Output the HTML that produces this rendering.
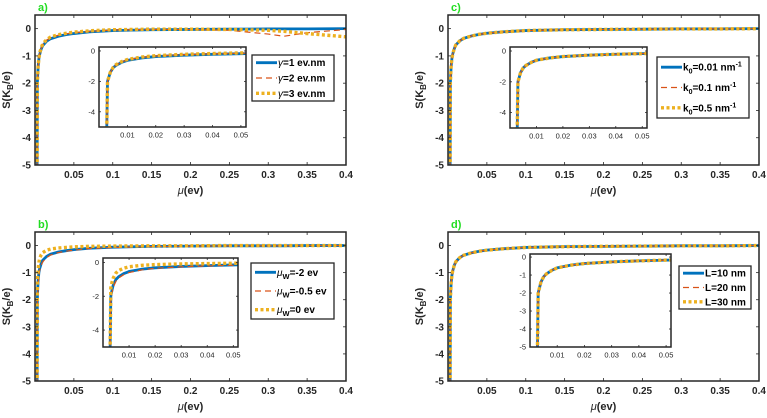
<!DOCTYPE html>
<html><head><meta charset="utf-8">
<style>
html,body{margin:0;padding:0;background:#fff;}
svg{display:block;font-family:"Liberation Sans",Arial,sans-serif;}
</style></head>
<body>
<svg id="fig" width="767" height="418" viewBox="0 0 767 418" xmlns="http://www.w3.org/2000/svg"></svg>
<script>
// ---- data ----
const xs = [0.0027,0.003,0.0035,0.004,0.005,0.006,0.008,0.01,0.015,0.02,0.03,0.04,0.05,0.07,0.1,0.15,0.2,0.25,0.3,0.32,0.35,0.4];
const sA1 = [-5.5,-2.0,-1.7,-1.4,-1.1,-0.95,-0.75,-0.62,-0.46,-0.37,-0.28,-0.22,-0.18,-0.12,-0.07,-0.04,-0.03,-0.02,-0.01,-0.01,-0.01,0];
const sA2 = [-5.5,-2.0,-1.7,-1.4,-1.1,-0.93,-0.72,-0.58,-0.42,-0.33,-0.24,-0.19,-0.15,-0.1,-0.05,-0.03,-0.03,-0.06,-0.2,-0.28,-0.15,-0.03];
const sA3 = [-5.5,-2.0,-1.7,-1.4,-1.08,-0.9,-0.7,-0.56,-0.4,-0.31,-0.22,-0.17,-0.13,-0.08,-0.04,-0.02,-0.02,-0.03,-0.06,-0.1,-0.18,-0.3];
const sB1 = [-5.5,-2.0,-1.6,-1.3,-1.0,-0.85,-0.66,-0.54,-0.4,-0.32,-0.24,-0.19,-0.15,-0.1,-0.06,-0.03,-0.02,-0.01,-0.01,-0.01,0,0];
const sB2 = [-5.5,-2.1,-1.75,-1.45,-1.1,-0.92,-0.72,-0.6,-0.44,-0.35,-0.26,-0.21,-0.17,-0.11,-0.07,-0.04,-0.02,-0.01,-0.01,-0.01,0,0];
const sB3 = [-5.5,-1.5,-1.15,-0.9,-0.62,-0.48,-0.34,-0.26,-0.17,-0.13,-0.09,-0.07,-0.05,-0.03,-0.02,-0.01,-0.01,0,0,0,0,0];
const sC1 = [-5.5,-2.0,-1.7,-1.4,-1.1,-0.94,-0.74,-0.6,-0.45,-0.36,-0.27,-0.21,-0.17,-0.12,-0.07,-0.04,-0.03,-0.02,-0.01,-0.01,-0.01,0];
const sC2 = [-5.5,-2.0,-1.7,-1.4,-1.1,-0.94,-0.74,-0.6,-0.45,-0.36,-0.27,-0.21,-0.17,-0.12,-0.07,-0.04,-0.03,-0.02,-0.01,-0.01,-0.01,0];
const sC3 = [-5.5,-2.0,-1.7,-1.4,-1.1,-0.94,-0.74,-0.6,-0.45,-0.36,-0.27,-0.21,-0.17,-0.12,-0.07,-0.04,-0.03,-0.02,-0.01,-0.01,-0.01,0];
const sD1 = [-5.5,-2.0,-1.7,-1.4,-1.1,-0.94,-0.74,-0.6,-0.45,-0.36,-0.27,-0.21,-0.17,-0.12,-0.07,-0.04,-0.03,-0.02,-0.01,-0.01,-0.01,0];
const sD2 = [-5.5,-2.0,-1.7,-1.4,-1.1,-0.94,-0.74,-0.6,-0.45,-0.36,-0.27,-0.21,-0.17,-0.12,-0.07,-0.04,-0.03,-0.02,-0.01,-0.01,-0.01,0];
const sD3 = [-5.5,-2.0,-1.7,-1.4,-1.1,-0.94,-0.74,-0.6,-0.45,-0.36,-0.27,-0.21,-0.17,-0.12,-0.07,-0.04,-0.03,-0.02,-0.01,-0.01,-0.01,0];
const mainXTicks = [0.05,0.1,0.15,0.2,0.25,0.3,0.35,0.4];
const mainXLabels = ["0.05","0.1","0.15","0.2","0.25","0.3","0.35","0.4"];
const mainYTicks = [-5,-4,-3,-2,-1,0];
const insetXTicks = [0.01,0.02,0.03,0.04,0.05];
const insetXLabels = ["0.01","0.02","0.03","0.04","0.05"];
const insetYTicksABC = [-4,-2,0];
const insetYTicksD = [-5,-4,-3,-2,-1,0];

const NS="http://www.w3.org/2000/svg";
const svg=document.getElementById('fig');
function mk(tag,attrs,parent){const e=document.createElementNS(NS,tag);for(const k in attrs)e.setAttribute(k,attrs[k]);(parent||svg).appendChild(e);return e;}
const styles=[
 {stroke:"#0072BD",w:2.8,dash:null},
 {stroke:"#D95319",w:1.2,dash:"6,4"},
 {stroke:"#EDB120",w:3.4,dash:"3,2.5"}
];
let clipId=0;

function axes(g,box,xd,yd,xt,xl,yt,font,fw,tickLen,seriesList,name){
  const sx=v=>box.l+(v-xd[0])/(xd[1]-xd[0])*(box.r-box.l);
  const sy=v=>box.b-(v-yd[0])/(yd[1]-yd[0])*(box.b-box.t);
  const ax=mk('g',{},g);
  
  
  mk('rect',{x:box.l,y:box.t,width:box.r-box.l,height:box.b-box.t,fill:'#fff'},ax);
  const cid='c'+(clipId++);
  const cp=mk('clipPath',{id:cid},ax);
  mk('rect',{x:box.l,y:box.t,width:box.r-box.l,height:box.b-box.t},cp);
  const lines=mk('g',{'clip-path':'url(#'+cid+')'},ax);
  seriesList.forEach((s,i)=>{
    const st=styles[i];
    const d=xs.map((x,j)=>(j?'L':'M')+sx(x).toFixed(2)+','+sy(s[j]).toFixed(2)).join('');
    const p=mk('path',{d:d,fill:'none',stroke:st.stroke,'stroke-width':st.w},lines);
    if(st.dash)p.setAttribute('stroke-dasharray',st.dash);
    
    
  });
  xt.forEach((v,i)=>{
    const x=sx(v);
    mk('line',{x1:x,y1:box.b,x2:x,y2:box.b-tickLen,stroke:'#262626','stroke-width':0.8},ax);
    mk('line',{x1:x,y1:box.t,x2:x,y2:box.t+tickLen,stroke:'#262626','stroke-width':0.8},ax);
    const t=mk('text',{x:x,y:box.b+font+3,'font-size':font,'font-weight':fw,'text-anchor':'middle',fill:'#262626'},ax);
    t.textContent=xl[i];
    
    
  });
  yt.forEach(v=>{
    const y=sy(v);
    mk('line',{x1:box.l,y1:y,x2:box.l+tickLen,y2:y,stroke:'#262626','stroke-width':0.8},ax);
    mk('line',{x1:box.r,y1:y,x2:box.r-tickLen,y2:y,stroke:'#262626','stroke-width':0.8},ax);
    const t=mk('text',{x:box.l-4,y:y+font*0.35,'font-size':font,'font-weight':fw,'text-anchor':'end',fill:'#262626'},ax);
    t.textContent=String(v);
    
    
  });
  mk('rect',{x:box.l,y:box.t,width:box.r-box.l,height:box.b-box.t,fill:'none',stroke:'#262626','stroke-width':1.5},ax);
}

function legend(g,lb,entries){
  const lg=mk('g',{},g);
  
  
  mk('rect',{x:lb.l,y:lb.t,width:lb.r-lb.l,height:lb.b-lb.t,fill:'#fff',stroke:'#262626','stroke-width':1.3},lg);
  const h=(lb.b-lb.t)/3;
  entries.forEach((e,i)=>{
    const y=lb.t+h*(i+0.5);
    const st=styles[i];
    const ln=mk('line',{x1:lb.l+4,y1:y,x2:lb.l+25,y2:y,stroke:st.stroke,'stroke-width':st.w},lg);
    if(st.dash)ln.setAttribute('stroke-dasharray',st.dash);
    const t=mk('text',{x:lb.l+26,y:y+3.5,'font-size':10,'font-weight':'bold',fill:'#000'},lg);
    t.innerHTML=e;
    
    
  });
}

const panels=[
 {id:'a',main:{l:35,r:346,t:15,b:165},inset:{l:99,r:246,t:47,b:127},leg:{l:252,r:334,t:55,b:101},s:[sA1,sA2,sA3],iyt:insetYTicksABC,iyd:[-5,0.26],
  ent:['<tspan font-style="italic" font-weight="normal">γ</tspan>=1 ev.nm','<tspan font-style="italic" font-weight="normal">γ</tspan>=2 ev.nm','<tspan font-style="italic" font-weight="normal">γ</tspan>=3 ev.nm']},
 {id:'b',main:{l:35,r:346,t:232,b:381},inset:{l:103,r:238,t:258,b:347},leg:{l:251,r:334,t:263,b:319},s:[sB1,sB2,sB3],iyt:insetYTicksABC,iyd:[-5,0.26],
  ent:['<tspan font-style="italic" font-weight="normal">μ</tspan><tspan font-size="7.5" dy="3">W</tspan><tspan dy="-3">=-2 ev</tspan>','<tspan font-style="italic" font-weight="normal">μ</tspan><tspan font-size="7.5" dy="3">W</tspan><tspan dy="-3">=-0.5 ev</tspan>','<tspan font-style="italic" font-weight="normal">μ</tspan><tspan font-size="7.5" dy="3">W</tspan><tspan dy="-3">=0 ev</tspan>']},
 {id:'c',main:{l:448,r:759,t:15,b:165},inset:{l:510,r:647,t:47,b:128},leg:{l:657,r:749,t:57,b:118},s:[sC1,sC2,sC3],iyt:insetYTicksABC,iyd:[-5,0.26],
  ent:['k<tspan font-size="7" dy="3">0</tspan><tspan dy="-3">=0.01 nm</tspan><tspan font-size="7" dy="-4">-1</tspan>','k<tspan font-size="7" dy="3">0</tspan><tspan dy="-3">=0.1 nm</tspan><tspan font-size="7" dy="-4">-1</tspan>','k<tspan font-size="7" dy="3">0</tspan><tspan dy="-3">=0.5 nm</tspan><tspan font-size="7" dy="-4">-1</tspan>']},
 {id:'d',main:{l:448,r:759,t:232,b:381},inset:{l:530,r:671,t:254,b:347},leg:{l:679,r:751,t:266,b:309},s:[sD1,sD2,sD3],iyt:insetYTicksD,iyd:[-5,0.17],
  ent:['L=10 nm','L=20 nm','L=30 nm']}
];

panels.forEach(p=>{
  const g=mk('g',{});
  
  
  axes(g,p.main,[0,0.4],[-5,0.5],mainXTicks,mainXLabels,mainYTicks,10,'bold',3,p.s,'main-axes-'+p.id);
  const lbl=mk('text',{x:p.main.l+3,y:p.main.t-4,'font-size':11,'font-weight':'bold',fill:'#22dd22'},g);
  lbl.textContent=p.id+')';
  
  
  const xl=mk('text',{x:(p.main.l+p.main.r)/2,y:p.main.b+29,'font-size':11,'font-weight':'bold','text-anchor':'middle',fill:'#262626'},g);
  xl.innerHTML='<tspan font-style="italic" font-weight="normal">μ</tspan>(ev)';
  
  
  const cy=(p.main.t+p.main.b)/2, cx=p.main.l-25;
  const yl=mk('text',{x:cx,y:cy,'font-size':11,'font-weight':'bold','text-anchor':'middle',fill:'#262626',transform:'rotate(-90 '+cx+' '+cy+')'},g);
  yl.innerHTML='S(K<tspan font-size="8" dy="3">B</tspan><tspan dy="-3">/e)</tspan>';
  
  
  axes(g,p.inset,[0,0.0518],p.iyd,insetXTicks,insetXLabels,p.iyt,7.5,'normal',2,p.s,'inset-axes-'+p.id);
  legend(g,p.leg,p.ent);
});
</script>
</body></html>
